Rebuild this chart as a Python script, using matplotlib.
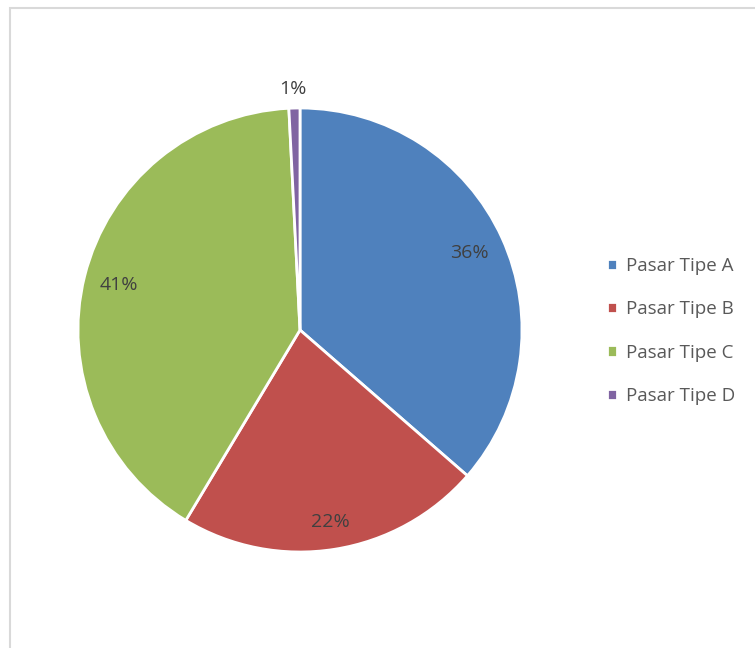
import matplotlib.pyplot as plt
import numpy as np
from matplotlib.patches import Rectangle

labels = ["Pasar Tipe A", "Pasar Tipe B", "Pasar Tipe C", "Pasar Tipe D"]
values = [36.4, 22.2, 40.6, 0.8]
colors = ["#4F81BD", "#C0504D", "#9BBB59", "#8064A2"]

plt.rcParams['font.family'] = ['Open Sans', 'DejaVu Sans']

fig = plt.figure(figsize=(7.55, 6.48), dpi=100)

# outer frame (only left and top visible in the crop)
fig.patches.append(Rectangle((10 / 755, -0.1), 1.2, (648 - 8) / 648 + 0.1,
                             transform=fig.transFigure, fill=False,
                             edgecolor="#D9D9D9", linewidth=1.5))

ax = fig.add_axes([78 / 755, 96 / 648, 444 / 755, 444 / 648])
wedges, texts, autotexts = ax.pie(
    values, colors=colors, startangle=90, counterclock=False,
    autopct=lambda p: f"{p:.0f}%", pctdistance=0.84,
    wedgeprops=dict(edgecolor="white", linewidth=2),
    textprops=dict(color="#404040", fontsize=14))
ax.set_xlim(-1, 1)
ax.set_ylim(-1, 1)
ax.set_aspect("equal")

# nudge labels like the original
x, y = autotexts[1].get_position()
autotexts[1].set_position((x * 1.04, y * 1.04))
autotexts[3].set_position((-0.03, 1.085))

leg = fig.legend(wedges, labels, loc="center left", bbox_to_anchor=(590 / 755, 1 - 331 / 648),
                 frameon=False, fontsize=13.5, labelcolor="#595959",
                 handlelength=0.55, handleheight=0.55, handletextpad=0.45,
                 labelspacing=1.35)

fig.savefig("out.png", dpi=100)
